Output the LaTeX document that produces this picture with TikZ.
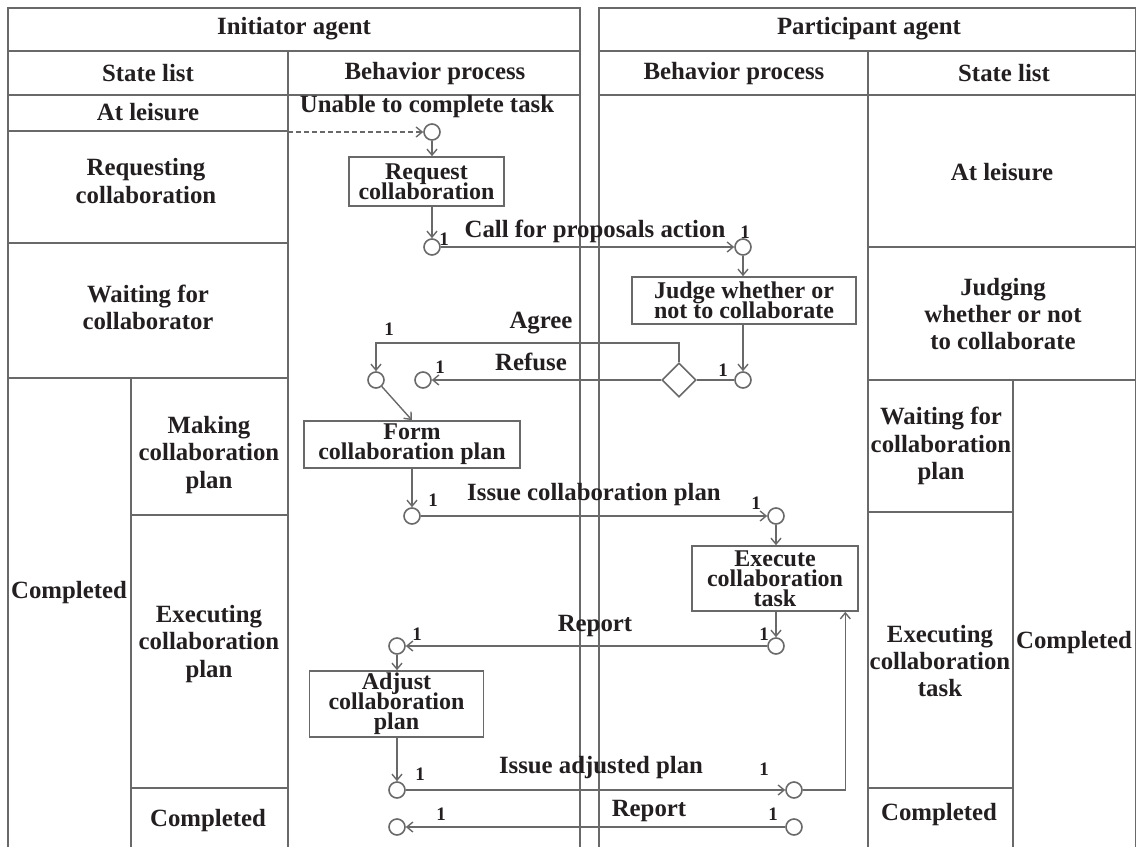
\documentclass[tikz,border=0pt]{standalone}
\usepackage{fontspec}
\setmainfont{Liberation Serif}
\usetikzlibrary{arrows.meta,shapes.geometric,calc}
\definecolor{ink}{RGB}{35,31,32}
\definecolor{rule}{RGB}{105,105,105}
\newcommand\labelfont{\bfseries\fontsize{12.4pt}{13.6pt}\selectfont}
\newcommand\boxfont{\bfseries\fontsize{12pt}{10pt}\selectfont\lineskiplimit=-\maxdimen}
\newcommand\numfont{\bfseries\fontsize{9.5pt}{10pt}\selectfont}

\begin{document}
\begin{tikzpicture}[x=0.5pt,y=-0.5pt,
  tbl/.style={draw=rule,line width=1pt},
  txt/.style={text=ink,font=\labelfont,align=center,inner sep=0pt},
  act/.style={draw=rule,line width=0.8pt,fill=white,text=ink,font=\boxfont,align=center,inner sep=0pt},
  st/.style={circle,draw=rule,line width=0.8pt,fill=white,minimum size=8pt,inner sep=0pt},
  dec/.style={diamond,draw=rule,line width=0.8pt,fill=white,minimum width=17pt,minimum height=17pt,inner sep=0pt},
  flow/.style={draw=rule,line width=0.7pt,-{Straight Barb[length=3pt,width=5pt]}},
  link/.style={draw=rule,line width=0.7pt},
  num/.style={text=ink,font=\numfont,inner sep=0pt},
]
\useasboundingbox (0,0) rectangle (1136,847);

% ---------- Initiator agent lanes ----------
\draw[tbl] (8,847) -- (8,8) -- (580,8) -- (580,847);
\draw[tbl] (8,51) -- (580,51);
\draw[tbl] (8,95) -- (580,95);
\draw[tbl] (288,51) -- (288,847);
\draw[tbl] (8,131) -- (288,131);
\draw[tbl] (8,243) -- (288,243);
\draw[tbl] (8,378) -- (288,378);
\draw[tbl] (131,378) -- (131,847);
\draw[tbl] (131,515) -- (288,515);
\draw[tbl] (131,788) -- (288,788);

% ---------- Participant agent lanes ----------
\draw[tbl] (599,847) -- (599,8) -- (1135.5,8) -- (1135.5,847);
\draw[tbl] (599,51) -- (1136,51);
\draw[tbl] (599,95) -- (1136,95);
\draw[tbl] (868,51) -- (868,847);
\draw[tbl] (868,247) -- (1136,247);
\draw[tbl] (868,380) -- (1136,380);
\draw[tbl] (1013,380) -- (1013,847);
\draw[tbl] (868,512) -- (1013,512);
\draw[tbl] (868,788) -- (1013,788);

% ---------- headers ----------
\node[txt] (hdrI) at (294,29) {Initiator agent};
\node[txt] (hdrP) at (869,29) {Participant agent};
\node[txt] (colIs) at (148,73) {State list};
\node[txt] (colIb) at (435,74) {Behavior process};
\node[txt] (colPb) at (734,74) {Behavior process};
\node[txt] (colPs) at (1004,73) {State list};

% ---------- state lists ----------
\node[txt] (sI1) at (148,112) {At leisure};
\node[txt] (sI2) at (146,181) {Requesting\\collaboration};
\node[txt] (sI3) at (148,307) {Waiting for\\collaborator};
\node[txt] (sI4) at (69,593) {Completed};
\node[txt] (sI5) at (209,455) {Making\\collaboration\\plan};
\node[txt] (sI6) at (209,644) {Executing\\collaboration\\plan};
\node[txt] (sI7) at (208,821) {Completed};
\node[txt] (sP1) at (1002,172) {At leisure};
\node[txt] (sP2) at (1003,314) {Judging\\whether or not\\to collaborate};
\node[txt] (sP3) at (941,446) {Waiting for\\collaboration\\plan};
\node[txt] (sP4) at (940,661) {Executing\\collaboration\\task};
\node[txt] (sP5) at (1074,643) {Completed};
\node[txt] (sP6) at (939,815) {Completed};

% ---------- behaviour flow ----------
\node[txt] (trig) at (427,107) {Unable to complete task};
\node[st] (c1) at (432,132) {};
\coordinate (dsrc) at (288,132);
\draw[flow,dash pattern=on 2.5pt off 1.5pt] (dsrc) -- (c1);

\node[act,minimum width=77.5pt,minimum height=24.5pt] (req) at (426.5,181.5) {Request\\collaboration};
\draw[flow] (c1) -- (c1 |- req.north);

\node[st] (c2) at (432,247) {};
\draw[flow] (req.south -| c2) -- (c2);
\node[st] (c3) at (743,247) {};
\draw[flow] (c2) -- (c3);
\node[txt] (lcfp) at (595,231) {Call for proposals action};
\node[num] (n2) at (444,239) {1};
\node[num] (n3) at (745,232) {1};

\node[act,minimum width=112pt,minimum height=23.5pt] (judge) at (744,300.5) {Judge whether or\\not to collaborate};
\draw[flow] (c3) -- (c3 |- judge.north);

\node[st] (c4) at (743,380) {};
\draw[flow] (judge.south -| c4) -- (c4);
\node[dec] (d) at (679,380) {};
\draw[link] (c4) -- (d);
\node[num] (n4) at (723,370) {1};

\node[st] (c5) at (423,380) {};
\draw[flow] (d) -- (c5);
\node[txt] (lref) at (531,362) {Refuse};
\node[num] (n5) at (440,367) {1};

\node[st] (c6) at (376,380) {};
\coordinate (agreeY) at (0,343);
\draw[flow] (d.north) -- (d.north |- agreeY) -| (c6.north);
\node[txt] (lagr) at (541,323) {Agree};
\node[num] (n6) at (389,329) {1};

\node[act,minimum width=108pt,minimum height=23.5pt] (form) at (412,444.5) {Form\\collaboration plan};
\draw[flow] (c6) -- (form.north);

\node[st] (c7) at (412,516) {};
\draw[flow] (form.south -| c7) -- (c7);
\node[st] (c8) at (776,516) {};
\draw[flow] (c7) -- (c8);
\node[txt] (lisp) at (594,495) {Issue collaboration plan};
\node[num] (n7) at (433,500) {1};
\node[num] (n8) at (756,503) {1};

\node[act,minimum width=83pt,minimum height=32.5pt] (exec) at (775,578.5) {Execute\\collaboration\\task};
\draw[flow] (c8) -- (c8 |- exec.north);

\node[st] (c9) at (776,646) {};
\draw[flow] (exec.south -| c9) -- (c9);
\node[st] (c10) at (397,646) {};
\draw[flow] (c9) -- (c10);
\node[txt] (lrep1) at (595,626) {Report};
\node[num] (n9) at (764,634) {1};
\node[num] (n10) at (417,634) {1};

\node[act,minimum width=87pt,minimum height=33pt] (adjust) at (396.5,704) {Adjust\\collaboration\\plan};
\draw[flow] (c10) -- (c10 |- adjust.north);

\node[st] (c11) at (397,790) {};
\draw[flow] (adjust.south -| c11) -- (c11);
\node[st] (c12) at (794,790) {};
\draw[flow] (c11) -- (c12);
\node[txt] (liap) at (601,768) {Issue adjusted plan};
\node[num] (n11) at (420,774) {1};
\node[num] (n12) at (764,769) {1};
\draw[flow] (c12) -| ([xshift=-6.75pt]exec.south east);

\node[st] (c13) at (794,827) {};
\node[st] (c14) at (397,827) {};
\draw[flow] (c13) -- (c14);
\node[txt] (lrep2) at (649,811) {Report};
\node[num] (n14) at (441,814) {1};
\node[num] (n13) at (773,814) {1};
\end{tikzpicture}
\end{document}
